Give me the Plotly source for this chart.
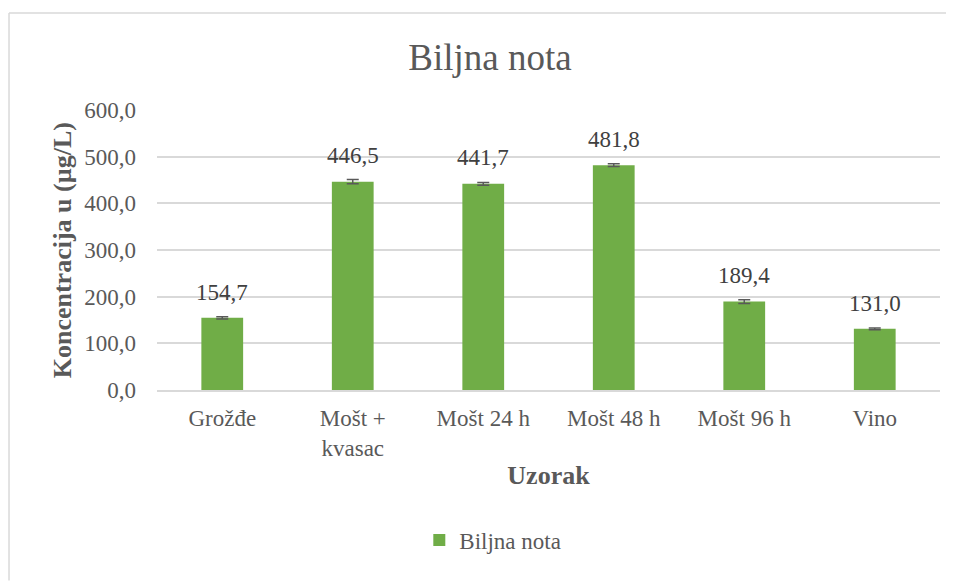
import plotly.graph_objects as go

kategorije = ["Grožđe", "Mošt +<br>kvasac", "Mošt 24 h", "Mošt 48 h", "Mošt 96 h", "Vino"]
vrijednosti = [154.7, 446.5, 441.7, 481.8, 189.4, 131.0]
greske = [2.5, 4.5, 3.0, 3.0, 4.0, 2.0]
y_tickovi = [0, 100, 200, 300, 400, 500, 600]

FONT = "Liberation Serif"
ZELENA = "#70AD47"
SIVA = "#595959"

fig = go.Figure()
fig.add_trace(go.Bar(
    x=kategorije,
    y=vrijednosti,
    name="Biljna nota",
    marker=dict(color=ZELENA, line=dict(width=0)),
    error_y=dict(type="data", array=greske, visible=True,
                 color=SIVA, thickness=1.5, width=6),
))

# oznake podataka iznad stupaca (decimalni zarez)
for k, v, e in zip(kategorije, vrijednosti, greske):
    fig.add_annotation(
        x=k, y=v + e, text=f"{v:.1f}".replace(".", ","),
        showarrow=False, yanchor="bottom", yshift=10,
        font=dict(family=FONT, size=23, color="#404040"),
    )

# naslov osi y kao anotacija, da stoji tocno gdje treba
fig.add_annotation(
    xref="paper", yref="paper", x=-0.121, y=0.5, xanchor="center", yanchor="middle",
    text="<b>Koncentracija u (µg/L)</b>", textangle=-90, showarrow=False,
    font=dict(family=FONT, size=26, color="#595959"),
)

# stranica ima 8 px ruba, pa je sve pomaknuto za 8 px
fig.update_layout(
    width=946, height=573,
    paper_bgcolor="white", plot_bgcolor="white",
    margin=dict(l=149, r=14, t=102, b=191),
    separators=",.",
    bargap=0.68,
    showlegend=True,
    font=dict(family=FONT, size=23, color="#595959"),
    title=dict(text="Biljna nota", x=482 / 946, xanchor="center", y=1 - 49 / 573, yanchor="middle",
               font=dict(family=FONT, size=37, color="#595959")),
    legend=dict(orientation="h", x=0.335, xanchor="left", y=-0.536, yanchor="middle",
                itemwidth=30,
                font=dict(family=FONT, size=23, color="#595959")),
    xaxis=dict(
        showgrid=False, showline=True, linecolor="#D9D9D9", linewidth=1.5,
        ticks="", ticklabelstandoff=7,
        tickfont=dict(family=FONT, size=23, color="#595959"),
        title=dict(text="<b>Uzorak</b>", standoff=6,
                   font=dict(family=FONT, size=26, color="#595959")),
    ),
    yaxis=dict(
        range=[0, 600], tickvals=y_tickovi, tickformat=".1f",
        showgrid=True, gridcolor="#D9D9D9", gridwidth=1.5,
        zeroline=False, showline=False, ticks="",
        ticklabelstandoff=20,
        tickfont=dict(family=FONT, size=23, color="#595959"),
    ),
)

# okvir grafikona (vidljivi lijevi i gornji rub)
fig.add_shape(type="line", xref="paper", yref="paper", x0=-0.189, x1=1.05, y0=1.346, y1=1.346,
              line=dict(color="#D9D9D9", width=1.5))
fig.add_shape(type="line", xref="paper", yref="paper", x0=-0.189, x1=-0.189, y0=1.346, y1=-0.68,
              line=dict(color="#D9D9D9", width=1.5))

fig.write_html("out.html")
